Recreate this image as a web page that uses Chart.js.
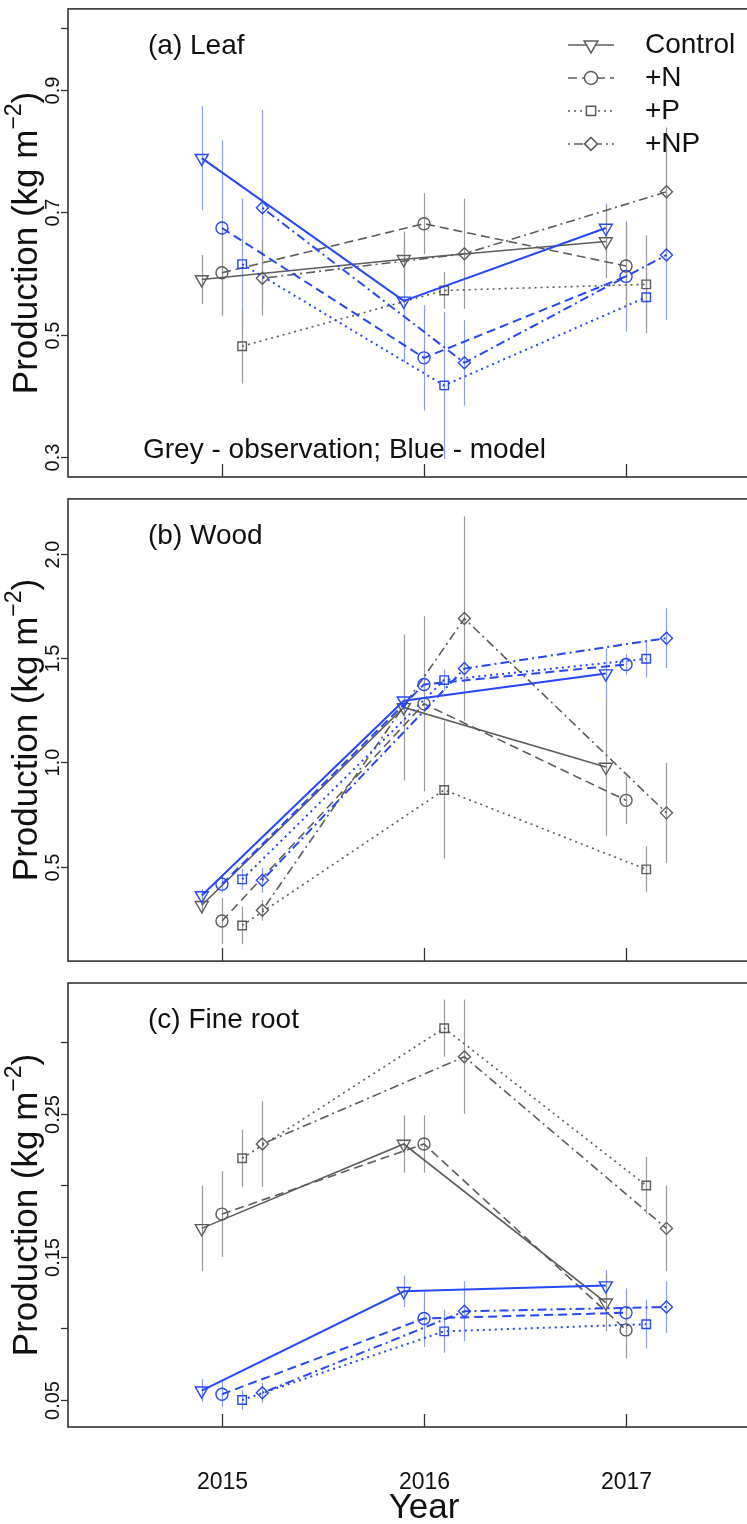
<!DOCTYPE html>
<html>
<head>
<meta charset="utf-8">
<script src="https://cdn.jsdelivr.net/npm/chart.js@4.4.0/dist/chart.umd.min.js"></script>
<style>
  html, body { margin: 0; padding: 0; background: #fff; }
  body { width: 747px; height: 1524px; overflow: hidden; position: relative; }
  canvas { position: absolute; left: 0; }
</style>
</head>
<body>
<canvas id="leaf" width="790" height="490" style="top:0px"></canvas>
<canvas id="wood" width="790" height="480" style="top:490px"></canvas>
<canvas id="root" width="790" height="554" style="top:970px"></canvas>
<script>
const years = [2015, 2016, 2017];
const treatments = ['Control', '+N', '+P', '+NP'];

// rows: Control, +N, +P, +NP ; columns: 2015, 2016, 2017
const leafObs    = [[0.590, 0.623, 0.652], [0.601, 0.681, 0.612], [0.481, 0.572, 0.582], [0.592, 0.632, 0.733]];
const leafObsErr = [[0.040, 0.045, 0.060], [0.070, 0.050, 0.070], [0.061, 0.030, 0.080], [0.061, 0.090, 0.105]];
const leafMod    = [[0.788, 0.555, 0.674], [0.674, 0.462, 0.595], [0.615, 0.417, 0.561], [0.707, 0.454, 0.630]];
const leafModErr = [[0.085, 0.100, 0.040], [0.143, 0.086, 0.090], [0.107, 0.120, 0.050], [0.160, 0.070, 0.106]];

const woodObs    = [[0.315, 1.264, 0.978], [0.239, 1.281, 0.818], [0.218, 0.868, 0.487], [0.291, 1.690, 0.758]];
const woodObsErr = [[0.040, 0.350, 0.330], [0.110, 0.420, 0.113], [0.090, 0.330, 0.110], [0.050, 0.490, 0.240]];
const woodMod    = [[0.362, 1.296, 1.426], [0.416, 1.374, 1.470], [0.439, 1.395, 1.497], [0.435, 1.450, 1.596]];
const woodModErr = [[0.030, 0.100, 0.120], [0.040, 0.050, 0.050], [0.050, 0.050, 0.090], [0.060, 0.070, 0.143]];

const rootObs    = [[0.170, 0.229, 0.118], [0.180, 0.229, 0.099], [0.219, 0.310, 0.200], [0.229, 0.290, 0.170]];
const rootObsErr = [[0.030, 0.020, 0.020], [0.030, 0.020, 0.020], [0.020, 0.020, 0.020], [0.030, 0.040, 0.030]];
const rootMod    = [[0.0565, 0.126, 0.130], [0.054, 0.107, 0.111], [0.050, 0.098, 0.103], [0.055, 0.112, 0.115]];
const rootModErr = [[0.008, 0.011, 0.011], [0.009, 0.020, 0.017], [0.007, 0.015, 0.017], [0.007, 0.021, 0.018]];

const leafTicks = [0.3, 0.5, 0.7, 0.9, 1.0];
const leafTickLabels = ['0.3', '0.5', '0.7', '0.9', ''];
const woodTicks = [0.5, 1.0, 1.5, 2.0];
const woodTickLabels = ['0.5', '1.0', '1.5', '2.0'];
const rootTicks = [0.05, 0.10, 0.15, 0.20, 0.25, 0.30];
const rootTickLabels = ['0.05', '', '0.15', '', '0.25', ''];
const yearLabels = ['2015', '2016', '2017'];

const FONT = "'Liberation Sans', Arial, sans-serif";
const GREY = '#5c5c5c';
const GREY_ERR = '#9a9a9a';
const BLUE = 'rgb(38,72,246)';
const BLUE_ERR = 'rgba(60,90,246,0.6)';

// small x shift per treatment so the bars do not overlap
const dodge = [-0.1, 0, 0.1, 0.2];
const dashes = [[], [9, 5], [2, 4], [2, 4, 9, 4]];
const markers = ['triangle', 'circle', 'rect', 'rectRot'];

function series(means, errs, colour, errColour, width, order) {
  return means.map((row, i) => ({
    label: treatments[i],
    data: row.map((v, j) => ({ x: years[j] + dodge[i], y: v })),
    err: errs[i],
    errColour: errColour,
    order: order,
    borderColor: colour,
    borderWidth: width,
    borderDash: dashes[i],
    pointStyle: markers[i],
    pointRotation: i === 0 ? 180 : 0,
    pointRadius: i === 0 ? 7.5 : 6,
    pointBorderColor: colour,
    pointBackgroundColor: 'rgba(0,0,0,0)',
    pointBorderWidth: 1.4,
    tension: 0,
    fill: false
  }));
}

function marker(ctx, style, rot, r, x, y) {
  if (Chart.helpers && Chart.helpers.drawPoint) {
    Chart.helpers.drawPoint(ctx, { pointStyle: style, rotation: rot, radius: r, borderWidth: 1.4 }, x, y);
  }
}

const frame = {
  id: 'frame',
  beforeDatasetsDraw(chart, args, o) {
    const { ctx, chartArea: a, scales: { x, y } } = chart;
    ctx.save();
    ctx.beginPath();
    ctx.rect(a.left, a.top, a.right - a.left, a.bottom - a.top);
    ctx.clip();
    ctx.lineWidth = 1.2;
    ctx.setLineDash([]);
    chart.data.datasets.forEach(ds => {
      ctx.strokeStyle = ds.errColour;
      ds.data.forEach((p, j) => {
        const px = Math.round(x.getPixelForValue(p.x)) + 0.5;
        ctx.beginPath();
        ctx.moveTo(px, y.getPixelForValue(p.y + ds.err[j]));
        ctx.lineTo(px, y.getPixelForValue(p.y - ds.err[j]));
        ctx.stroke();
      });
    });
    ctx.restore();
  },
  afterDraw(chart, args, o) {
    const { ctx, chartArea: a, scales: { x, y } } = chart;
    ctx.save();
    ctx.setLineDash([]);
    ctx.strokeStyle = '#333';
    ctx.lineWidth = 1.6;
    ctx.strokeRect(a.left, a.top, a.right - a.left, a.bottom - a.top);

    // y axis: outward ticks, labels turned to read upwards
    ctx.lineWidth = 1.3;
    ctx.fillStyle = '#111';
    ctx.font = '20px ' + FONT;
    o.yTicks.forEach((v, i) => {
      const py = Math.round(y.getPixelForValue(v)) + 0.5;
      ctx.beginPath();
      ctx.moveTo(a.left, py);
      ctx.lineTo(a.left - 7, py);
      ctx.stroke();
      if (o.yLabels[i]) {
        ctx.save();
        ctx.translate(a.left - 9, py);
        ctx.rotate(-Math.PI / 2);
        ctx.textAlign = 'center';
        ctx.textBaseline = 'alphabetic';
        ctx.fillText(o.yLabels[i], 0, 0);
        ctx.restore();
      }
    });

    // x axis: ticks pointing into the panel
    years.forEach((v, i) => {
      const px = Math.round(x.getPixelForValue(v)) + 0.5;
      ctx.beginPath();
      ctx.moveTo(px, a.bottom);
      ctx.lineTo(px, a.bottom - 13);
      ctx.stroke();
      if (o.xLabels) {
        ctx.textAlign = 'center';
        ctx.textBaseline = 'middle';
        ctx.font = '23px ' + FONT;
        ctx.fillText(yearLabels[i], px, a.bottom + 56);
      }
    });
    if (o.xLabels) {
      ctx.font = '35px ' + FONT;
      ctx.textAlign = 'center';
      ctx.textBaseline = 'middle';
      ctx.fillText('Year', x.getPixelForValue(2016), a.bottom + 81);
    }

    // y axis title with superscript
    ctx.save();
    ctx.translate(37, (a.top + a.bottom) / 2);
    ctx.rotate(-Math.PI / 2);
    ctx.textBaseline = 'alphabetic';
    const big = '35px ' + FONT, small = '23px ' + FONT;
    const p1 = 'Production (kg m', p2 = '\u22122', p3 = ')';
    ctx.font = big; const w1 = ctx.measureText(p1).width, w3 = ctx.measureText(p3).width;
    ctx.font = small; const w2 = ctx.measureText(p2).width;
    let sx = -(w1 + w2 + w3) / 2;
    ctx.textAlign = 'left';
    ctx.font = big; ctx.fillText(p1, sx, 0); sx += w1;
    ctx.font = small; ctx.fillText(p2, sx, -16); sx += w2;
    ctx.font = big; ctx.fillText(p3, sx, 0);
    ctx.restore();

    // panel title
    ctx.font = '28px ' + FONT;
    ctx.textAlign = 'left';
    ctx.textBaseline = 'middle';
    ctx.fillStyle = '#111';
    ctx.fillText(o.title, a.left + 80, a.top + 37);

    if (o.note) {
      ctx.fillText(o.note, a.left + 75, a.bottom - 27);
    }

    if (o.legend) {
      treatments.forEach((t, i) => {
        const ly = a.top + 36 + i * 33;
        ctx.strokeStyle = GREY;
        ctx.lineWidth = 1.5;
        ctx.setLineDash(dashes[i]);
        ctx.beginPath();
        ctx.moveTo(a.left + 500, ly);
        ctx.lineTo(a.left + 546, ly);
        ctx.stroke();
        ctx.setLineDash([]);
        ctx.fillStyle = '#fff';
        marker(ctx, markers[i], i === 0 ? 180 : 0, i === 0 ? 8 : 6.5, a.left + 523, ly);
        ctx.fillStyle = '#111';
        ctx.font = '28px ' + FONT;
        ctx.fillText(t, a.left + 577, ly);
      });
    }
    ctx.restore();
  }
};

function panel(id, obs, obsErr, mod, modErr, yMin, yMax, pad, frameOpts) {
  return new Chart(document.getElementById(id), {
    type: 'line',
    data: {
      datasets: series(mod, modErr, BLUE, BLUE_ERR, 2, 0)
        .concat(series(obs, obsErr, GREY, GREY_ERR, 1.6, 1))
    },
    options: {
      responsive: false,
      animation: false,
      devicePixelRatio: 1,
      layout: { padding: pad },
      scales: {
        x: { type: 'linear', min: 2014.238, max: 2017.762, display: false },
        y: { type: 'linear', min: yMin, max: yMax, display: false }
      },
      plugins: {
        legend: { display: false },
        tooltip: { enabled: false },
        frame: frameOpts
      }
    },
    plugins: [frame]
  });
}

panel('leaf', leafObs, leafObsErr, leafMod, leafModErr, 0.2675, 1.0317,
  { top: 7, bottom: 13, left: 68, right: 10 },
  { yTicks: leafTicks, yLabels: leafTickLabels, title: '(a) Leaf', legend: true,
    note: 'Grey - observation; Blue - model', xLabels: false });

panel('wood', woodObs, woodObsErr, woodMod, woodModErr, 0.047, 2.264,
  { top: 4, bottom: 6, left: 68, right: 10 },
  { yTicks: woodTicks, yLabels: woodTickLabels, title: '(b) Wood', legend: false,
    note: '', xLabels: false });

panel('root', rootObs, rootObsErr, rootMod, rootModErr, 0.0311, 0.3416,
  { top: 13, bottom: 97, left: 68, right: 10 },
  { yTicks: rootTicks, yLabels: rootTickLabels, title: '(c) Fine root', legend: false,
    note: '', xLabels: true });
</script>
</body>
</html>
